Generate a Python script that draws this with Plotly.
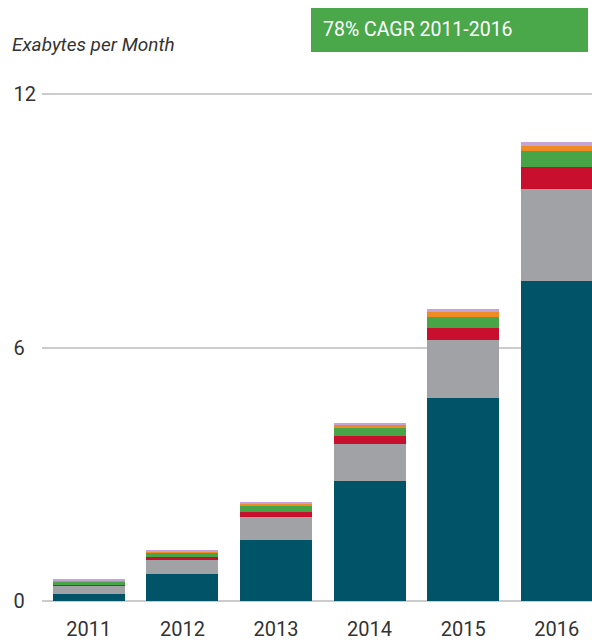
import plotly.graph_objects as go

years = ["2011", "2012", "2013", "2014", "2015", "2016"]
video = [0.175, 0.65, 1.44, 2.84, 4.80, 7.57]
web_data = [0.195, 0.33, 0.55, 0.885, 1.38, 2.19]
file_sharing = [0.02, 0.05, 0.12, 0.17, 0.28, 0.51]
m2m = [0.07, 0.095, 0.14, 0.22, 0.27, 0.38]
gaming = [0.03, 0.055, 0.06, 0.04, 0.12, 0.13]
voip = [0.04, 0.025, 0.04, 0.05, 0.06, 0.09]

series = [
    ("Mobile Video", video, "#015467"),
    ("Mobile Web/Data", web_data, "#a1a2a6"),
    ("Mobile File Sharing", file_sharing, "#c8102e"),
    ("M2M", m2m, "#47a547"),
    ("Mobile Gaming", gaming, "#f08a24"),
    ("Mobile VoIP", voip, "#c4a3d6"),
]

y_ticks = [0, 6, 12]
y_tick_text = ["0\u2007", "6\u2007", "12"]

xpos = list(range(len(years)))

# plot-area geometry in pixels (used to place the heading texts)
L, W, B, H = 42, 550, 601, 528


def px_x(p):
    return (p - L) / W


def px_y(p):
    return (B - p) / H


fig = go.Figure()
for name, vals, color in series:
    fig.add_trace(go.Bar(
        x=xpos, y=vals, name=name, width=0.77,
        marker=dict(color=color, line=dict(width=0)),
        showlegend=False, hoverinfo="skip",
    ))

fig.update_layout(
    barmode="stack",
    width=592, height=641,
    margin=dict(l=42, r=0, t=73, b=40),
    paper_bgcolor="white", plot_bgcolor="white",
    font=dict(family="Roboto, Liberation Sans, sans-serif", color="#333333", size=20),
    xaxis=dict(
        range=[-0.5, 5.376], tickmode="array", tickvals=xpos, ticktext=years,
        showgrid=False, zeroline=False, showline=False, ticks="",
        tickfont=dict(size=20, color="#333333"), ticklabelstandoff=14,
    ),
    yaxis=dict(
        range=[0, 12.5], tickmode="array", tickvals=y_ticks, ticktext=y_tick_text,
        showgrid=True, gridcolor="#cccccc", gridwidth=2,
        zeroline=True, zerolinecolor="#cccccc", zerolinewidth=2,
        showline=False, ticks="", ticklabelstandoff=5,
        tickfont=dict(size=20, color="#333333"),
    ),
    shapes=[
        dict(type="rect", xref="paper", yref="paper",
             x0=px_x(311), x1=px_x(588), y0=px_y(52), y1=px_y(8),
             fillcolor="#4aa74a", line=dict(width=0), layer="above"),
    ],
    annotations=[
        dict(
            text="<i>Exabytes per Month</i>", xref="paper", yref="paper",
            x=px_x(10), y=px_y(44), xanchor="left", yanchor="middle",
            showarrow=False, font=dict(size=19, color="#333333", family="Roboto, sans-serif"),
        ),
        dict(
            text="78% CAGR 2011-2016", xref="paper", yref="paper",
            x=px_x(321), y=px_y(30), xanchor="left", yanchor="middle",
            showarrow=False,
            font=dict(size=19.5, color="white", family="Roboto, sans-serif"),
        ),
    ],
)

fig.write_html("out.html", config={"displayModeBar": False},
               post_script="document.body.style.margin='0';")
